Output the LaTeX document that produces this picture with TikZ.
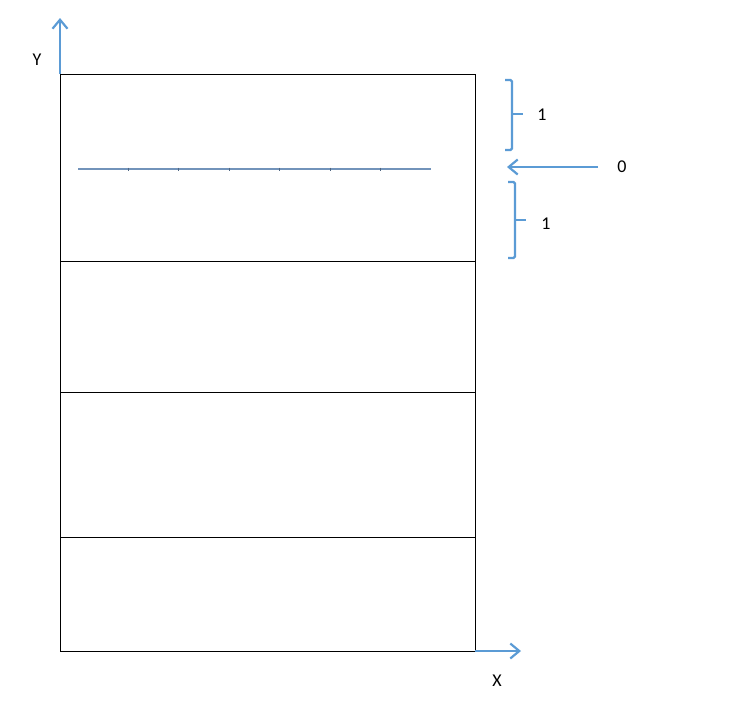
\documentclass[tikz,border=0pt]{standalone}
\usepackage{fontspec}
\setmainfont{Carlito}
\usetikzlibrary{arrows.meta}
\definecolor{accent}{HTML}{5B9BD5}
\definecolor{midline}{HTML}{7293BA}
\begin{document}
\begin{tikzpicture}[x=1pt,y=-1pt,
  axis/.style={draw=accent,line width=2.4pt,-{Straight Barb[length=9pt,width=15pt,line width=2.2pt]}},
  bracket/.style={draw=accent,line width=2.4pt,rounded corners=1.5pt},
  lbl/.style={font=\fontsize{18}{21}\selectfont,inner sep=0pt}]
\useasboundingbox (0,0) rectangle (737,710);
% frame
\coordinate (tl) at (60,74);
\coordinate (br) at (475,651);
\draw[black,line width=0.9pt] (tl) rectangle (br);
\coordinate (r1l) at (60,261); \coordinate (r1r) at (475,261);
\coordinate (r2l) at (60,392); \coordinate (r2r) at (475,392);
\coordinate (r3l) at (60,537); \coordinate (r3r) at (475,537);
\draw[black,line width=0.9pt] (r1l) -- (r1r) (r2l) -- (r2r) (r3l) -- (r3r);
% axes
\coordinate (ytop) at (60,18);
\coordinate (xend) at (521,651);
\coordinate (orig) at (60,651);
\draw[axis] (tl) -- (ytop);
\draw[axis] (br) -- (xend);
\node[lbl] (ylab) at (37,60) {Y};
\node[lbl] (xlab) at (497,681) {X};
% blue line with ticks
\coordinate (ml) at (78,169);
\coordinate (mr) at (431,169);
\draw[midline,line width=2.2pt] (ml) -- (mr);
\foreach \t in {128,178,229,279,330,380}
  \draw[midline!70!black,line width=0.8pt] (\t,167.5) -- (\t,170.5);
% bracket 1
\coordinate (b1t) at (505,80);
\coordinate (b1b) at (505,150);
\draw[bracket] (b1t) -- (512,80) -- (512,150) -- (b1b);
\coordinate (b1m) at (512,114);
\coordinate (b1k) at (523,114);
\draw[accent,line width=2.4pt] (b1m) -- (b1k);
\node[lbl] (one1) at (542,115) {1};
% arrow 0
\coordinate (a0s) at (598,167);
\coordinate (a0e) at (507,167);
\draw[axis] (a0s) -- (a0e);
\node[lbl] (zero) at (622,167) {0};
% bracket 2
\coordinate (b2t) at (508,182);
\coordinate (b2b) at (508,258);
\draw[bracket] (b2t) -- (515,182) -- (515,258) -- (b2b);
\coordinate (b2m) at (515,220);
\coordinate (b2k) at (526,220);
\draw[accent,line width=2.4pt] (b2m) -- (b2k);
\node[lbl] (one2) at (546,224) {1};
\end{tikzpicture}
\end{document}
